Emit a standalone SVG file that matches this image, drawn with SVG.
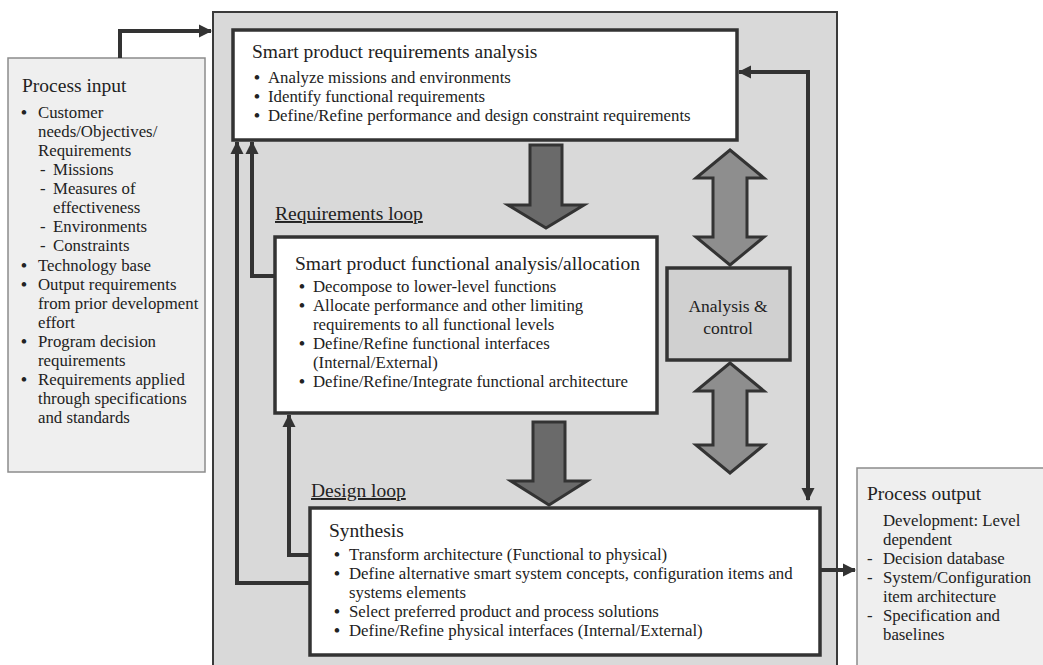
<svg xmlns="http://www.w3.org/2000/svg" width="1043" height="665" viewBox="0 0 1043 665">
  <style>
    text { font-family: "Liberation Serif", "Times New Roman", serif; fill: #222; }
    .title { font-size: 19.5px; }
    .body { font-size: 16.8px; }
    .label { font-size: 19.5px; text-decoration: underline; }
    .dot { font-weight: bold; }
    .io { fill: #efefef; stroke: #8c8c8c; stroke-width: 1.5; }
    .frame { fill: #d9d9d9; stroke: #3a3a3a; stroke-width: 2; }
    .step { fill: #ffffff; stroke: #333; stroke-width: 3.5; }
    .ctrl { fill: #d0d0d0; stroke: #333; stroke-width: 3.5; }
    .flow { fill: #6a6a6a; stroke: #333; stroke-width: 3; stroke-linejoin: miter; }
    .dual { fill: #8e8e8e; stroke: #333; stroke-width: 3; stroke-linejoin: miter; }
    .link { fill: none; stroke: #333; stroke-width: 4; }
    .ctr { text-anchor: middle; }
  </style>
  <defs>
    <marker id="head" markerUnits="userSpaceOnUse" markerWidth="14" markerHeight="14" viewBox="0 0 14 14" refX="12" refY="7" orient="auto-start-reverse">
      <path d="M0,0.5 L13,7 L0,13.5 z" fill="#333"/>
    </marker>
  </defs>

  <rect width="1043" height="665" fill="#ffffff"/>

  <!-- process frame behind all steps -->
  <g id="frame">
    <rect class="frame" x="213" y="12" width="624" height="665"/>
  </g>

  <!-- inputs -->
  <g id="process-input">
    <rect class="io" x="8" y="58" width="197" height="414"/>
    <text class="title" x="22" y="92">Process input</text>
    <g class="body">
      <text class="dot" x="21" y="118">•</text><text x="38" y="118">Customer</text>
      <text x="38" y="137">needs/Objectives/</text>
      <text x="38" y="156">Requirements</text>
      <text x="40" y="175">-</text><text x="53" y="175">Missions</text>
      <text x="40" y="194">-</text><text x="53" y="194">Measures of</text>
      <text x="53" y="213">effectiveness</text>
      <text x="40" y="232">-</text><text x="53" y="232">Environments</text>
      <text x="40" y="251">-</text><text x="53" y="251">Constraints</text>
      <text class="dot" x="21" y="271">•</text><text x="38" y="271">Technology base</text>
      <text class="dot" x="21" y="290">•</text><text x="38" y="290">Output requirements</text>
      <text x="38" y="309">from prior development</text>
      <text x="38" y="328">effort</text>
      <text class="dot" x="21" y="347">•</text><text x="38" y="347">Program decision</text>
      <text x="38" y="366">requirements</text>
      <text class="dot" x="21" y="385">•</text><text x="38" y="385">Requirements applied</text>
      <text x="38" y="404">through specifications</text>
      <text x="38" y="423">and standards</text>
    </g>
  </g>

  <!-- outputs -->
  <g id="process-output">
    <rect class="io" x="857" y="468" width="200" height="210"/>
    <text class="title" x="867" y="500">Process output</text>
    <g class="body">
      <text x="883" y="526">Development: Level</text>
      <text x="883" y="545">dependent</text>
      <text x="867" y="564">-</text><text x="883" y="564">Decision database</text>
      <text x="867" y="583">-</text><text x="883" y="583">System/Configuration</text>
      <text x="883" y="602">item architecture</text>
      <text x="867" y="621">-</text><text x="883" y="621">Specification and</text>
      <text x="883" y="640">baselines</text>
    </g>
  </g>

  <!-- requirements analysis -->
  <g id="requirements-analysis">
    <rect class="step" x="233" y="30" width="504" height="110"/>
    <text class="title" x="252" y="58">Smart product requirements analysis</text>
    <g class="body">
      <text class="dot" x="254" y="83">•</text><text x="268" y="83">Analyze missions and environments</text>
      <text class="dot" x="254" y="102">•</text><text x="268" y="102">Identify functional requirements</text>
      <text class="dot" x="254" y="121">•</text><text x="268" y="121">Define/Refine performance and design constraint requirements</text>
    </g>
  </g>

  <!-- functional analysis -->
  <g id="functional-analysis">
    <rect class="step" x="275" y="237" width="382" height="176"/>
    <text class="title" x="295" y="270">Smart product functional analysis/allocation</text>
    <g class="body">
      <text class="dot" x="299" y="292">•</text><text x="313" y="292">Decompose to lower-level functions</text>
      <text class="dot" x="299" y="311">•</text><text x="313" y="311">Allocate performance and other limiting</text>
      <text x="313" y="330">requirements to all functional levels</text>
      <text class="dot" x="299" y="349">•</text><text x="313" y="349">Define/Refine functional interfaces</text>
      <text x="313" y="368">(Internal/External)</text>
      <text class="dot" x="299" y="387">•</text><text x="313" y="387">Define/Refine/Integrate functional architecture</text>
    </g>
  </g>

  <!-- synthesis -->
  <g id="synthesis">
    <rect class="step" x="310" y="508" width="510" height="147"/>
    <text class="title" x="329" y="537">Synthesis</text>
    <g class="body">
      <text class="dot" x="334" y="560">•</text><text x="349" y="560">Transform architecture (Functional to physical)</text>
      <text class="dot" x="334" y="579">•</text><text x="349" y="579">Define alternative smart system concepts, configuration items and</text>
      <text x="349" y="598">systems elements</text>
      <text class="dot" x="334" y="617">•</text><text x="349" y="617">Select preferred product and process solutions</text>
      <text class="dot" x="334" y="636">•</text><text x="349" y="636">Define/Refine physical interfaces (Internal/External)</text>
    </g>
  </g>

  <!-- analysis and control -->
  <g id="analysis-control">
    <rect class="ctrl" x="667" y="268" width="123" height="92"/>
    <text class="body ctr" x="728" y="312" style="font-size:17.5px">Analysis &amp;</text>
    <text class="body ctr" x="728" y="334" style="font-size:17.5px">control</text>
  </g>

  <!-- loop labels -->
  <g id="loop-labels">
    <text class="label" x="275" y="220">Requirements loop</text>
    <text class="label" x="311" y="497">Design loop</text>
  </g>

  <!-- connectors -->
  <g id="connectors">
    <!-- block arrows between steps -->
    <polygon class="flow" points="530,145 562,145 562,205 584,205 546,228 508,205 530,205"/>
    <polygon class="flow" points="533,422 565,422 565,481 587,481 549,505 511,481 533,481"/>
    <!-- two-way arrows to analysis and control -->
    <polygon class="dual" points="730,150 764,178 747,178 747,237 764,237 730,265 696,237 713,237 713,178 696,178"/>
    <polygon class="dual" points="730,363 764,391 747,391 747,445 764,445 730,473 696,445 713,445 713,391 696,391"/>
    <!-- line connectors -->
    <path class="link" d="M120,58 V31 H211" marker-end="url(#head)"/>
    <path class="link" d="M310,583 H237 V142" marker-end="url(#head)"/>
    <path class="link" d="M275,276 H252 V142" marker-end="url(#head)"/>
    <path class="link" d="M310,555 H289 V415" marker-end="url(#head)"/>
    <path class="link" d="M808,500 V72 H739" marker-start="url(#head)" marker-end="url(#head)"/>
    <path class="link" d="M820,570 H855" marker-end="url(#head)"/>
  </g>
</svg>
